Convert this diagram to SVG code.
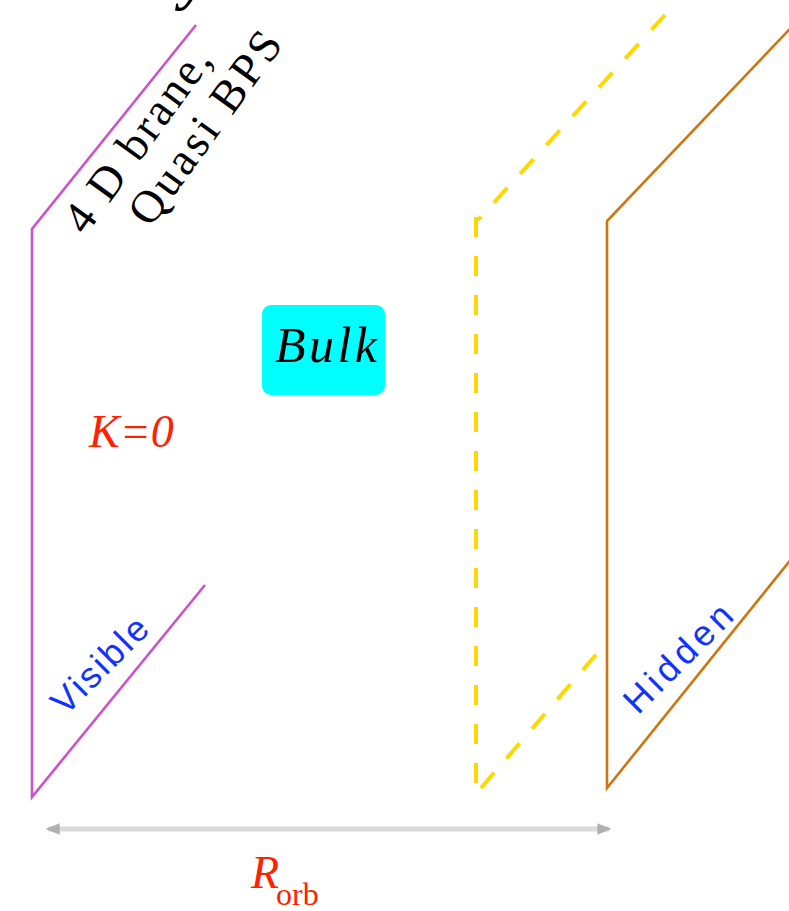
<svg xmlns="http://www.w3.org/2000/svg" width="789" height="911" viewBox="0 0 789 911">
<defs>
<style>
.serif{font-family:"Liberation Serif","Times New Roman",serif;}
.sans{font-family:"Liberation Sans",Arial,sans-serif;}
.red{fill:#ff2200;}
.blue{fill:#1133ff;}
.plane{fill:none;stroke-linejoin:miter;}
.dash{fill:none;stroke:#ffd800;stroke-width:4;stroke-dasharray:20 19;}
</style>
<marker id="ah" markerUnits="userSpaceOnUse" markerWidth="14" markerHeight="14" refX="10" refY="6" orient="auto-start-reverse" viewBox="0 0 12 12">
<path d="M0,1 L12,6 L0,11 z" fill="#b0b0b0"/>
</marker>
</defs>
<rect width="789" height="911" fill="#ffffff"/>

<g id="title">
<text class="serif" x="181" y="-2" font-size="60" font-weight="bold" font-style="italic" fill="#000">y</text>
</g>

<g id="visible-brane">
<path class="plane" d="M196,25 L32,229 L32,797 L205,585" stroke="#cc52cc" stroke-width="2.6"/>
<g transform="translate(85.5,236.2) rotate(-54)" class="serif" font-size="46" fill="#000">
<text x="0" y="0" letter-spacing="2.7">4 D brane,</text>
<text x="44" y="48" letter-spacing="3.4">Quasi BPS</text>
</g>
<text class="sans blue" font-size="36" letter-spacing="2.6" transform="translate(65.6,716.6) rotate(-45)">Visible</text>
</g>

<g id="middle-brane">
<path class="dash" d="M665,15 L478,220"/>
<path class="dash" d="M476,217 L476,791"/>
<path class="dash" d="M481,788 L600,650"/>
</g>

<g id="hidden-brane">
<path class="plane" d="M805,13 L607,221 L607,788 L805,542" stroke="#cc7711" stroke-width="2.6"/>
<text class="sans blue" font-size="36" letter-spacing="4.7" transform="translate(638,715.4) rotate(-45)">Hidden</text>
</g>

<g id="bulk">
<rect x="262" y="305" width="123" height="90" rx="9" ry="9" fill="#00ffff"/>
<text class="serif" x="275" y="362" font-size="50" font-style="italic" textLength="102" lengthAdjust="spacing" fill="#000">Bulk</text>
</g>

<g id="k-label">
<text class="serif red" x="89" y="447" font-size="46" font-style="italic">K=0</text>
</g>

<g id="connectors">
<line x1="48" y1="829" x2="609" y2="829" stroke="#dadada" stroke-width="5" marker-start="url(#ah)" marker-end="url(#ah)"/>
</g>

<g id="r-label">
<text class="serif red" x="251" y="888" font-size="46" font-style="italic">R<tspan font-style="normal" font-size="32" x="276" y="905">orb</tspan></text>
</g>
</svg>
